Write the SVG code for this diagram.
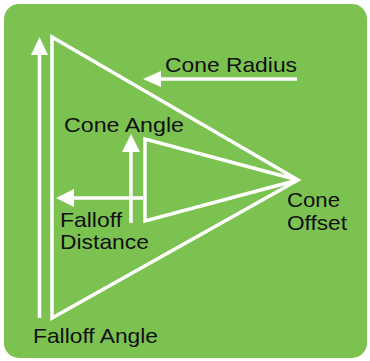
<svg xmlns="http://www.w3.org/2000/svg" width="370" height="361" viewBox="0 0 370 361">
<defs>
<style>
.bg{fill:#7cc250}
.ln{stroke:#ffffff;stroke-width:3.5;fill:none;stroke-linejoin:miter}
.ah{fill:#ffffff}
text{font-family:"Liberation Sans",Arial,sans-serif;font-size:21px;fill:#111111}
</style>
</defs>
<rect x="0" y="0" width="370" height="361" fill="#ffffff"/>
<rect class="bg" x="4" y="4" width="363" height="354" rx="15" ry="15"/>
<g id="outer-cone">
<polygon class="ln" points="52,37 298,180 52,318"/>
</g>
<g id="inner-cone">
<polyline class="ln" points="298,180 145,139 145,221 298,180"/>
</g>
<g id="connectors">
<line class="ln" x1="39.5" y1="318" x2="39.5" y2="50"/>
<polygon class="ah" points="39.5,37 31,55 48,55"/>
<line class="ln" x1="297" y1="79" x2="155" y2="79"/>
<polygon class="ah" points="143,79 161,71 161,87"/>
<line class="ln" x1="131" y1="223" x2="131" y2="148"/>
<polygon class="ah" points="131,134 122,152 140,152"/>
<line class="ln" x1="143" y1="198" x2="68" y2="198"/>
<polygon class="ah" points="56,198 74,189 74,207"/>
</g>
<g id="labels">
<text x="165" y="72" textLength="132" lengthAdjust="spacingAndGlyphs">Cone Radius</text>
<text x="64" y="132" textLength="120" lengthAdjust="spacingAndGlyphs">Cone Angle</text>
<text x="60" y="227" textLength="62" lengthAdjust="spacingAndGlyphs">Falloff</text>
<text x="60" y="249" textLength="89" lengthAdjust="spacingAndGlyphs">Distance</text>
<text x="287" y="207" textLength="53" lengthAdjust="spacingAndGlyphs">Cone</text>
<text x="287" y="230" textLength="60" lengthAdjust="spacingAndGlyphs">Offset</text>
<text x="33" y="343" textLength="125" lengthAdjust="spacingAndGlyphs">Falloff Angle</text>
</g>
</svg>
